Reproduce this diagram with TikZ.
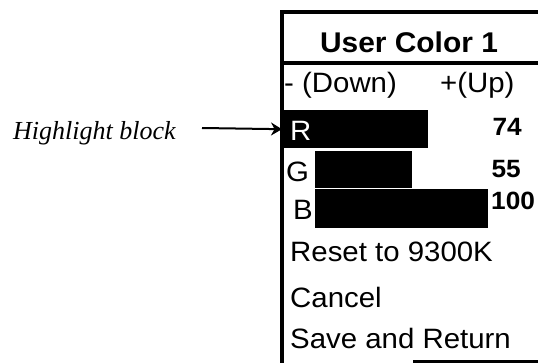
\documentclass[tikz,border=0pt]{standalone}
\usepackage{fontspec}
\setmainfont{Liberation Sans}[FakeStretch=1.05]
\newfontfamily\labelfont{Liberation Serif}
\usetikzlibrary{arrows.meta}

\begin{document}
\begin{tikzpicture}[
    x=1pt, y=-1pt,
    every node/.style={inner sep=0pt, anchor=base west, font=\fontsize{28}{30}\selectfont},
    title/.style={anchor=base, font=\fontsize{28.5}{30}\selectfont\bfseries},
    value/.style={font=\fontsize{25}{27}\selectfont\bfseries},
    bar/.style={fill=black, anchor=north west, minimum height=38pt},
    frame/.style={line width=3.5pt},
    pointer/.style={line width=2pt, -{Stealth[length=11pt, width=13pt]}}
]
\useasboundingbox (0,0) rectangle (538,363);

% ----- frame -----
\draw[frame] (282,363) |- (538,12);
\draw[frame] (282,63) -- (538,63);
\draw[frame] (413,362) -- (538,362);

% ----- title -----
\node[title] (title) at (409,53) {User Color 1};

% ----- header row -----
\node (down) at (284,93) {- (Down)};
\node (up) at (440,93) {+(Up)};

% ----- bars -----
\node[bar, minimum width=146pt] (rbar) at (282,110) {};
\node[bar, minimum width=97pt, minimum height=37pt] (gbar) at (315,151) {};
\node[bar, minimum width=173pt, minimum height=39pt] (bbar) at (315,189) {};

\node[text=white] (r) at (290,141) {R};
\node (g) at (286,182) {G};
\node (b) at (293,220) {B};

\node[value, anchor=base east] (rval) at (522,136) {74};
\node[value, anchor=base east] (gval) at (521,178) {55};
\node[value] (bval) at (491,210) {100};

% ----- menu -----
\node (reset) at (290,262) {Reset to 9300K};
\node (cancel) at (290,308) {Cancel};
\node (save) at (290,348) {Save and Return};

% ----- label -----
\node[font=\labelfont\itshape\fontsize{26}{28}\selectfont] (hl) at (13,140) {Highlight block};
\coordinate (tail) at (202,128);
\draw[pointer] (tail) -- (rbar.west);

\end{tikzpicture}
\end{document}
